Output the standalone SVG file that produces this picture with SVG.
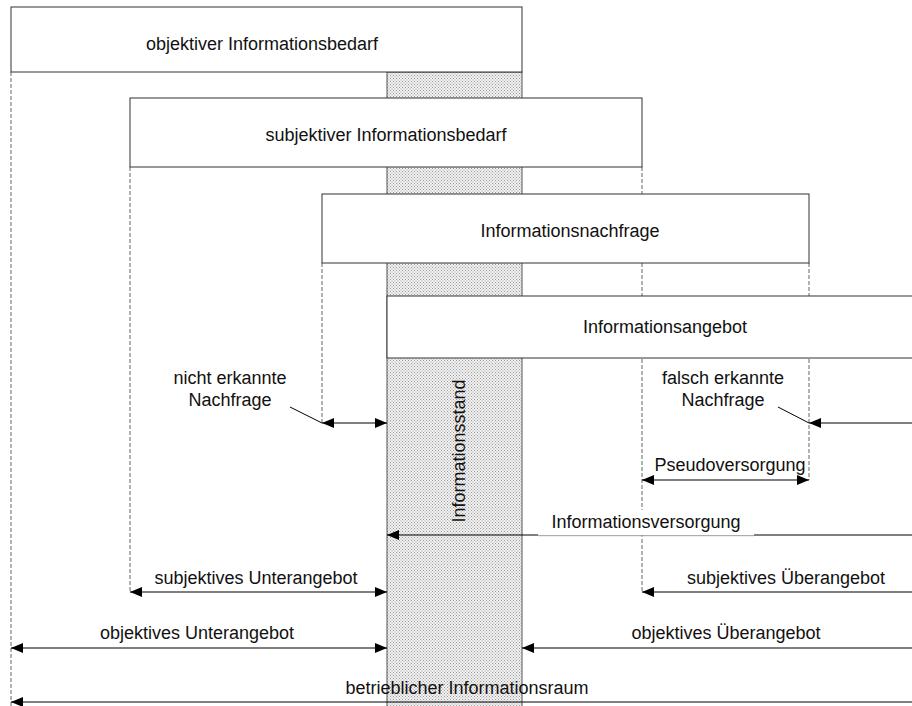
<svg xmlns="http://www.w3.org/2000/svg" width="912" height="706" viewBox="0 0 912 706">
  <style>
    text { font-family: "Liberation Sans", Arial, sans-serif; font-size: 18px; fill: #111; }
    .mid { text-anchor: middle; }
    .box { fill: #fff; stroke: #333; stroke-width: 1; }
    .dash { stroke: #666; stroke-width: 1; stroke-dasharray: 4 2; fill: none; }
    .arr { stroke: #000; stroke-width: 1.2; fill: none; }
    .lead { stroke: #000; stroke-width: 1; fill: none; }
  </style>
  <defs>
    <pattern id="dots" width="3" height="3" patternUnits="userSpaceOnUse">
      <rect width="3" height="3" fill="#f2f2f2"/>
      <rect x="0" y="0" width="1" height="1" fill="#9a9a9a"/>
      <rect x="1.5" y="1.5" width="1" height="1" fill="#9a9a9a"/>
    </pattern>
    <marker id="head" viewBox="0 0 12 10" refX="12" refY="5" markerWidth="12" markerHeight="10" markerUnits="userSpaceOnUse" orient="auto-start-reverse">
      <path d="M0,0 L12,5 L0,10 Z" fill="#000"/>
    </marker>
  </defs>

  <rect width="912" height="706" fill="#fff"/>

  <!-- knowledge state column -->
  <g id="informationsstand">
    <rect x="387" y="72" width="135" height="640" fill="url(#dots)" stroke="#555" stroke-width="1"/>
    <text class="mid" transform="translate(465,451) rotate(-90)">Informationsstand</text>
  </g>

  <!-- extension lines of the boxes -->
  <g id="guides">
    <line class="dash" x1="11" y1="72" x2="11" y2="706"/>
    <line class="dash" x1="130" y1="167" x2="130" y2="592"/>
    <line class="dash" x1="642" y1="167" x2="642" y2="592"/>
    <line class="dash" x1="322" y1="263" x2="322" y2="423"/>
    <line class="dash" x1="809" y1="263" x2="809" y2="480"/>
  </g>

  <g id="objektiver-bedarf">
    <rect class="box" x="11" y="7" width="511" height="65"/>
    <text class="mid" x="262" y="50">objektiver Informationsbedarf</text>
  </g>
  <g id="subjektiver-bedarf">
    <rect class="box" x="130" y="98" width="512" height="69"/>
    <text class="mid" x="386" y="141">subjektiver Informationsbedarf</text>
  </g>
  <g id="nachfrage">
    <rect class="box" x="322" y="194" width="487" height="69"/>
    <text class="mid" x="570" y="237">Informationsnachfrage</text>
  </g>
  <g id="angebot">
    <rect class="box" x="387" y="296" width="560" height="62"/>
    <text class="mid" x="665" y="333">Informationsangebot</text>
  </g>

  <!-- dimension arrows -->
  <g id="connectors">
    <line class="arr" x1="322" y1="423" x2="387" y2="423" marker-start="url(#head)" marker-end="url(#head)"/>
    <line class="lead" x1="290" y1="407" x2="322" y2="423"/>
    <line class="arr" x1="912" y1="423" x2="809" y2="423" marker-end="url(#head)"/>
    <line class="lead" x1="778" y1="407" x2="809" y2="423"/>
    <line class="arr" x1="642" y1="480" x2="809" y2="480" marker-start="url(#head)" marker-end="url(#head)"/>
    <line class="arr" x1="912" y1="535" x2="387" y2="535" marker-end="url(#head)"/>
    <line class="arr" x1="130" y1="592" x2="387" y2="592" marker-start="url(#head)" marker-end="url(#head)"/>
    <line class="arr" x1="912" y1="592" x2="642" y2="592" marker-end="url(#head)"/>
    <line class="arr" x1="11" y1="648" x2="387" y2="648" marker-start="url(#head)" marker-end="url(#head)"/>
    <line class="arr" x1="912" y1="648" x2="522" y2="648" marker-end="url(#head)"/>
    <line class="arr" x1="912" y1="702" x2="11" y2="702" marker-end="url(#head)"/>
  </g>

  <!-- labels -->
  <g id="labels">
    <text class="mid" x="230" y="384">nicht erkannte</text>
    <text class="mid" x="230" y="406">Nachfrage</text>
    <text class="mid" x="723" y="384">falsch erkannte</text>
    <text class="mid" x="723" y="406">Nachfrage</text>
    <text class="mid" x="730" y="471">Pseudoversorgung</text>
    <rect x="538" y="510" width="216" height="25" fill="#fff"/>
    <line x1="538" y1="536" x2="754" y2="536" stroke="#ddd" stroke-width="1"/>
    <text class="mid" x="646" y="528">Informationsversorgung</text>
    <text class="mid" x="256" y="584">subjektives Unterangebot</text>
    <text class="mid" x="786" y="584">subjektives Überangebot</text>
    <text class="mid" x="197" y="639">objektives Unterangebot</text>
    <text class="mid" x="726" y="639">objektives Überangebot</text>
    <text class="mid" x="467" y="694">betrieblicher Informationsraum</text>
  </g>
</svg>
